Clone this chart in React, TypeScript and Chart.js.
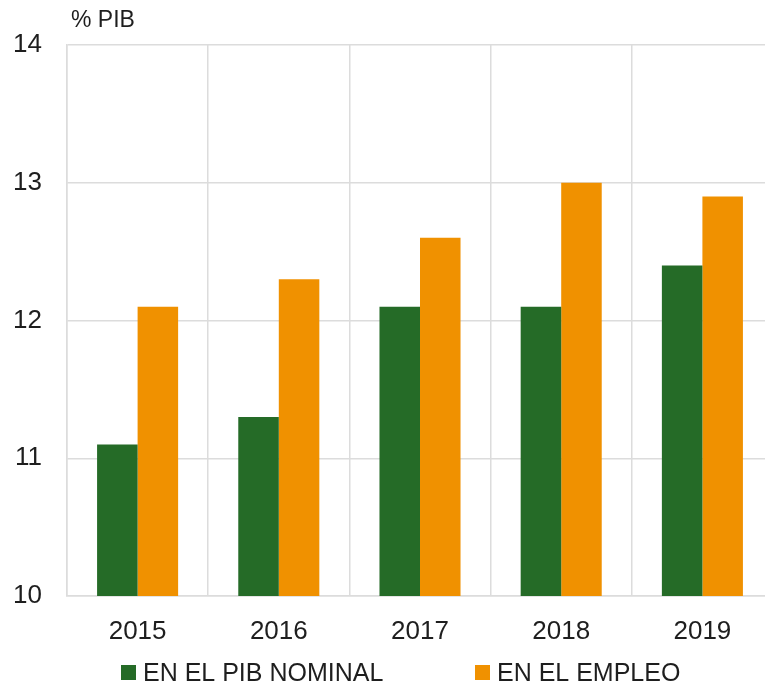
import React, { useEffect, useRef } from "react";
import { Chart, registerables } from "chart.js";

Chart.register(...registerables);

const categories = ["2015", "2016", "2017", "2018", "2019"];
const pibNominal = [11.1, 11.3, 12.1, 12.1, 12.4];
const empleo = [12.1, 12.3, 12.6, 13.0, 12.9];
const seriesLabels = ["EN EL PIB NOMINAL", "EN EL EMPLEO"];
const seriesColors = ["#256b27", "#f09100"];
const yUnit = "% PIB";

const FONT = "'Liberation Sans', Arial, Helvetica, sans-serif";
const TEXT = "#1e1e1e";
const GRID = "#dcdcdc";

const overlayPlugin = {
  id: "overlay",
  afterDraw(chart: any) {
    const ctx = chart.ctx;
    ctx.save();
    ctx.fillStyle = TEXT;
    ctx.font = `23px ${FONT}`;
    ctx.textBaseline = "alphabetic";
    ctx.textAlign = "left";
    ctx.fillText(yUnit, chart.chartArea.left + 4, 27);

    const legendX = [121, 475];
    ctx.font = `25px ${FONT}`;
    chart.data.datasets.forEach((ds: any, i: number) => {
      const x = legendX[i];
      ctx.fillStyle = ds.backgroundColor;
      ctx.fillRect(x, 665, 15, 15);
      ctx.fillStyle = TEXT;
      ctx.fillText(ds.label, x + 22, 681);
    });
    ctx.restore();
  },
};

export default function App() {
  const ref = useRef<HTMLCanvasElement>(null);
  useEffect(() => {
    if (!ref.current) return;
    const chart = new Chart(ref.current, {
      type: "bar",
      data: {
        labels: categories,
        datasets: [
          {
            label: seriesLabels[0],
            data: pibNominal,
            backgroundColor: seriesColors[0],
            categoryPercentage: 0.574,
            barPercentage: 1.0,
          },
          {
            label: seriesLabels[1],
            data: empleo,
            backgroundColor: seriesColors[1],
            categoryPercentage: 0.574,
            barPercentage: 1.0,
          },
        ],
      },
      options: {
        responsive: false,
        animation: false,
        layout: { padding: { top: 45, right: 27, bottom: 0, left: 0 } },
        plugins: {
          legend: { display: false },
          title: { display: false },
          tooltip: { enabled: false },
        },
        scales: {
          x: {
            grid: { color: GRID, lineWidth: 1.5, drawTicks: false, offset: true },
            border: { color: GRID, width: 1.5 },
            ticks: {
              color: TEXT,
              font: { family: FONT, size: 26 },
              padding: 20,
            },
            afterFit(scale: any) {
              scale.height = 89;
            },
          },
          y: {
            min: 10,
            max: 14,
            grid: { color: GRID, lineWidth: 1.5, drawTicks: false },
            border: { color: GRID, width: 1.5 },
            ticks: {
              stepSize: 1,
              color: TEXT,
              font: { family: FONT, size: 26 },
              padding: 25,
            },
            afterFit(scale: any) {
              scale.width = 67;
            },
          },
        },
      },
      plugins: [overlayPlugin],
    });
    return () => chart.destroy();
  }, []);

  return (
    <div
      style={{
        position: "fixed",
        left: 0,
        top: 0,
        width: 765,
        height: 685,
        overflow: "hidden",
        background: "#fff",
      }}
    >
      <canvas ref={ref} width={800} height={685} style={{ width: 800, height: 685, display: "block" }} />
    </div>
  );
}
